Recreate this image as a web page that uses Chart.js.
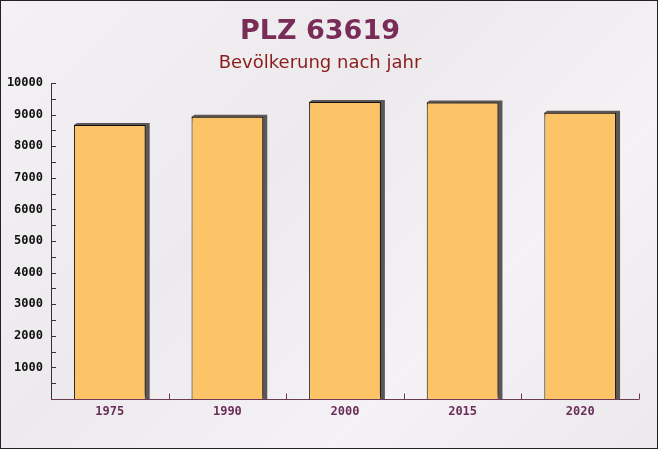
<!DOCTYPE html>
<html>
<head>
<meta charset="utf-8">
<script src="https://cdn.jsdelivr.net/npm/chart.js@4"></script>
<style>
  html, body { margin: 0; padding: 0; background: #efedef; }
  #wrap { width: 656px; height: 447px; border: 1px solid #222; position: relative; overflow: hidden;
          background: linear-gradient(135deg, #f3f1f3 0%, #eceaec 40%, #f4f2f4 70%, #ebe9eb 100%); }
  canvas { display: block; }
</style>
</head>
<body>
<div id="wrap"><canvas id="c" width="656" height="447"></canvas></div>
<script>
const categories = ['1975', '1990', '2000', '2015', '2020'];
const population = [8670, 8930, 9400, 9380, 9060];
const yTicks = [1000, 2000, 3000, 4000, 5000, 6000, 7000, 8000, 9000, 10000];
const titleText = 'PLZ 63619';
const subtitleText = 'Bevölkerung nach jahr';

const decor = {
  id: 'decor',
  beforeDatasetsDraw(chart) {
    const ctx = chart.ctx;
    const meta = chart.getDatasetMeta(0);
    ctx.save();
    ctx.fillStyle = '#5d5656';
    meta.data.forEach(bar => {
      const p = bar.getProps(['x', 'y', 'base', 'width'], true);
      const l = p.x - p.width / 2, r = p.x + p.width / 2;
      ctx.beginPath();
      ctx.moveTo(l, p.y);
      ctx.lineTo(l + 3, p.y - 2);
      ctx.lineTo(r + 4, p.y - 2);
      ctx.lineTo(r + 4, p.base);
      ctx.lineTo(r, p.base);
      ctx.closePath();
      ctx.fill();
    });
    ctx.restore();
  },
  afterDraw(chart) {
    const ctx = chart.ctx;
    const ya = chart.scales.y, xa = chart.scales.x;
    const area = chart.chartArea;
    ctx.save();
    ctx.strokeStyle = '#333';
    ctx.lineWidth = 1;
    ctx.beginPath();
    ctx.moveTo(area.left + 0.5, area.top);
    ctx.lineTo(area.left + 0.5, area.bottom);
    for (let v = 500; v <= 10000; v += 500) {
      const y = Math.round(ya.getPixelForValue(v)) + 0.5;
      ctx.moveTo(area.left, y);
      ctx.lineTo(area.left + 5, y);
    }
    ctx.stroke();
    ctx.strokeStyle = '#6b3a55';
    ctx.beginPath();
    const yb = Math.round(area.bottom) + 0.5;
    ctx.moveTo(area.left, yb);
    ctx.lineTo(area.right, yb);
    const n = categories.length;
    for (let i = 1; i <= n; i++) {
      const x = Math.round(xa.getPixelForValue(i - 0.5)) + 0.5;
      ctx.moveTo(x, yb);
      ctx.lineTo(x, yb - 6);
    }
    ctx.stroke();
    ctx.restore();
  }
};

new Chart(document.getElementById('c'), {
  type: 'bar',
  data: {
    labels: categories,
    datasets: [{
      data: population,
      backgroundColor: '#fcc466',
      borderColor: '#111',
      borderWidth: 1,
      barPercentage: 0.61,
      categoryPercentage: 1.0
    }]
  },
  options: {
    responsive: false,
    animation: false,
    devicePixelRatio: 1,
    layout: { padding: { left: 0, right: 18, top: 0, bottom: 0 } },
    plugins: {
      legend: { display: false },
      tooltip: { enabled: false },
      title: {
        display: true, text: titleText, color: '#7a2c58',
        font: { family: 'DejaVu Sans', size: 27, weight: 'bold' },
        padding: { top: 15, bottom: 4 }
      },
      subtitle: {
        display: true, text: subtitleText, color: '#8b1c1c',
        font: { family: 'DejaVu Sans', size: 18, weight: 'normal' },
        padding: { top: 0, bottom: 9 }
      }
    },
    scales: {
      x: {
        grid: { display: false, drawTicks: false },
        border: { display: false },
        ticks: { color: '#6b2d5a', font: { family: 'DejaVu Sans Mono', size: 12, weight: 'bold' }, padding: 6 },
        afterFit(s) { s.height = 49; }
      },
      y: {
        min: 0, max: 10000,
        afterBuildTicks(s) { s.ticks = yTicks.map(v => ({ value: v })); },
        grid: { display: false, drawTicks: false },
        border: { display: false },
        ticks: {
          color: '#111', font: { family: 'DejaVu Sans Mono', size: 12, weight: 'bold' }, padding: 8,
          callback: v => String(v)
        },
        afterFit(s) { s.width = 50; }
      }
    }
  },
  plugins: [decor]
});
</script>
</body>
</html>
